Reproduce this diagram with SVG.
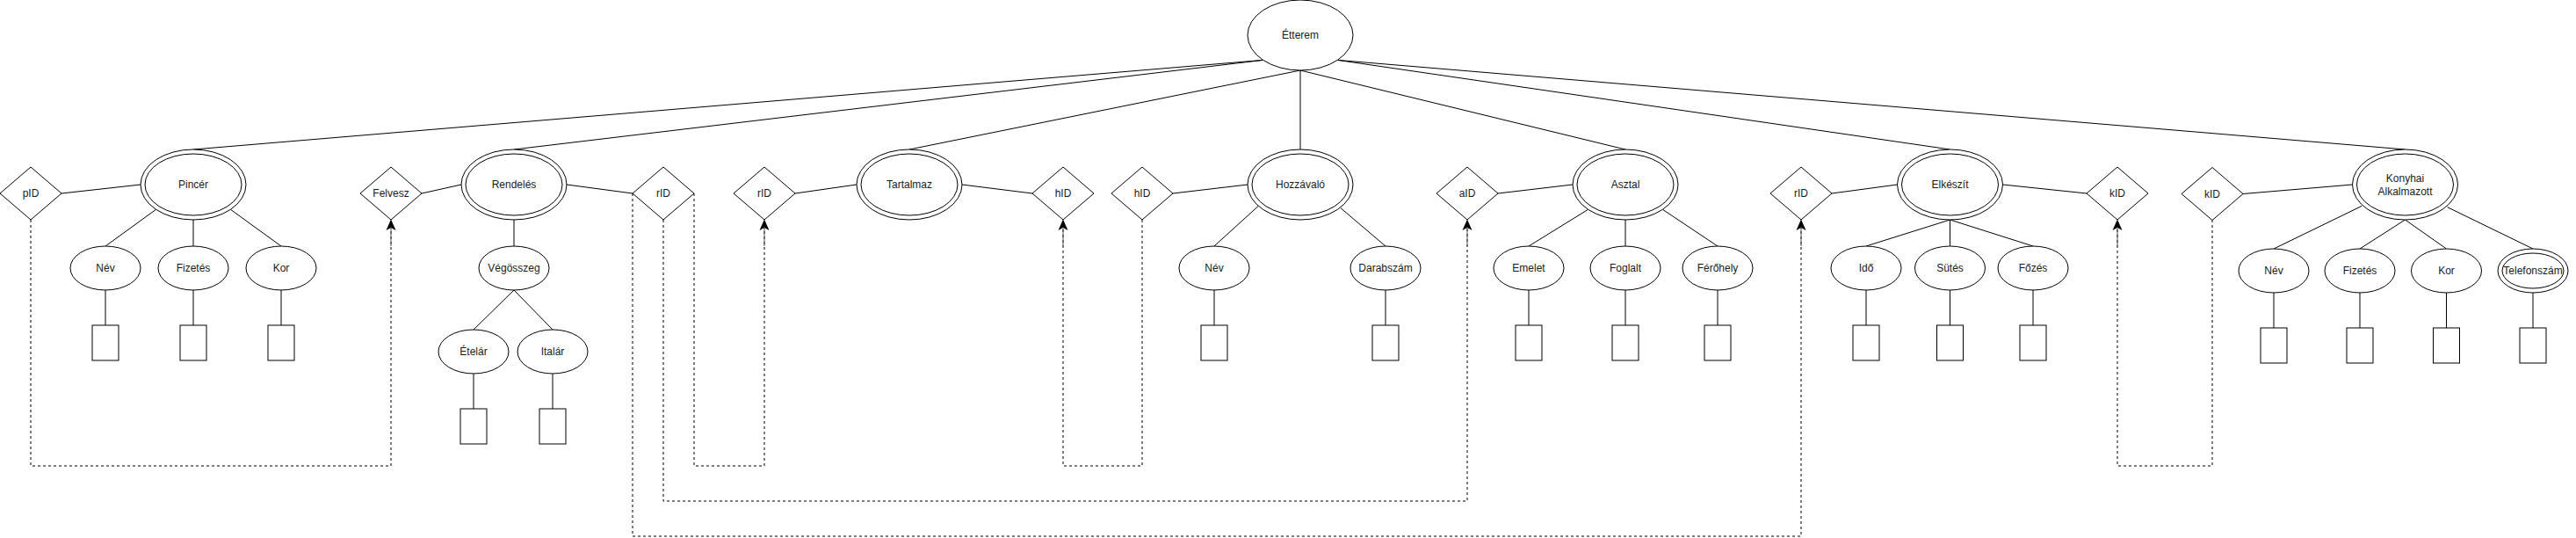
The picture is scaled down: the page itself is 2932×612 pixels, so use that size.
<svg xmlns="http://www.w3.org/2000/svg" width="2932" height="612" viewBox="0 0 2932 612">
<defs>
<style>
.s{fill:#fff;stroke:#000;stroke-width:1}
.e{fill:none;stroke:#000;stroke-width:1}
.d{fill:none;stroke:#000;stroke-width:1;stroke-dasharray:3 3}
.t{font-family:"Liberation Sans",Arial,Helvetica,sans-serif;font-size:12px;fill:#1a1a1a;text-anchor:middle}
</style>
<marker id="arr" markerUnits="userSpaceOnUse" markerWidth="12" markerHeight="12" viewBox="-9 -5 10 10" refX="0" refY="0" orient="auto">
<path d="M0,0 L-8,-3.5 L-6,0 L-8,3.5 Z" fill="#000" stroke="#000" stroke-width="1"/>
</marker>
</defs>
<rect width="2932" height="612" fill="#fff"/>
<g id="connectors">
<!-- Etterem links -->
<path class="e" d="M1437.4,68.4 L220,170"/>
<path class="e" d="M1437.4,68.4 L585,170"/>
<path class="e" d="M1480,80 L1035,170"/>
<path class="e" d="M1480,80 L1480,170"/>
<path class="e" d="M1480,80 L1850,170"/>
<path class="e" d="M1522.6,68.4 L2219.5,170"/>
<path class="e" d="M1522.6,68.4 L2737.5,170"/>
<!-- key links -->
<path class="e" d="M70,220 L160,210"/>
<path class="e" d="M480,220 L525,210"/>
<path class="e" d="M645,210 L720,220"/>
<path class="e" d="M905,220 L975,210"/>
<path class="e" d="M1095,210 L1175,220"/>
<path class="e" d="M1335,220 L1420,210"/>
<path class="e" d="M1705,220 L1790,210"/>
<path class="e" d="M2085,220 L2159.5,210"/>
<path class="e" d="M2279.5,210 L2375,220"/>
<path class="e" d="M2553,220.5 L2677.5,210"/>
<!-- attributes -->
<path class="e" d="M177.4,238.4 L120,280 M220,250 L220,280 M262.6,238.4 L320,280"/>
<path class="e" d="M120,330 L120,370 M220,330 L220,370 M320,330 L320,370"/>
<path class="e" d="M585,250 L585,280 M585,330 L539,375 M585,330 L629,375 M539,425 L539,465 M629,425 L629,465"/>
<path class="e" d="M1432.3,234.3 L1382,280 M1526,236.7 L1577,280 M1382,330 L1382,370 M1577,330 L1577,370"/>
<path class="e" d="M1807.4,238.4 L1740,280 M1850,250 L1850,280 M1892.6,238.4 L1955,280 M1740,330 L1740,370 M1850,330 L1850,370 M1955,330 L1955,370"/>
<path class="e" d="M2219.5,250 L2124,280 M2219.5,250 L2219.5,280 M2219.5,250 L2314,280 M2124,330 L2124,370 M2219.5,330 L2219.5,370 M2314,330 L2314,370"/>
<path class="e" d="M2688.3,234.3 L2588,283 M2737.5,250 L2686,283 M2737.5,250 L2784.5,283 M2785.7,235.7 L2883,283 M2588,333 L2588,373 M2686,333 L2686,373 M2784.5,333 L2784.5,373 M2883,333 L2883,373"/>
<!-- dashed references -->
<path class="d" d="M35,250 L35,530 L445,530 L445,251" marker-end="url(#arr)"/>
<path class="d" d="M790,220 L790,530 L870,530 L870,251" marker-end="url(#arr)"/>
<path class="d" d="M755,250 L755,570 L1670,570 L1670,251" marker-end="url(#arr)"/>
<path class="d" d="M720,220 L720,610 L2050,610 L2050,251" marker-end="url(#arr)"/>
<path class="d" d="M1300,250 L1300,530 L1210,530 L1210,251" marker-end="url(#arr)"/>
<path class="d" d="M2518,250 L2518,530 L2410,530 L2410,251" marker-end="url(#arr)"/>
<path stroke="#555" stroke-width="1" d="M445,258 L445,280 M870,258 L870,280 M1210,258 L1210,280 M1670,258 L1670,280 M2050,258 L2050,280 M2410,258 L2410,280"/>
</g>
<g id="etterem"><ellipse class="s" cx="1480" cy="40" rx="60" ry="40"/><text class="t" x="1480" y="44">Étterem</text></g>
<g id="pID"><polygon class="s" points="35,190 70,220 35,250 0,220"/><text class="t" x="35" y="224">pID</text></g>
<g id="pincer"><ellipse class="s" cx="220" cy="210" rx="60" ry="40"/><ellipse class="s" cx="220" cy="210" rx="55" ry="35"/><text class="t" x="220" y="214">Pincér</text></g>
<g id="pincer-nev"><ellipse class="s" cx="120" cy="305" rx="40" ry="25"/><text class="t" x="120" y="309">Név</text></g>
<g id="pincer-fizetes"><ellipse class="s" cx="220" cy="305" rx="40" ry="25"/><text class="t" x="220" y="309">Fizetés</text></g>
<g id="pincer-kor"><ellipse class="s" cx="320" cy="305" rx="40" ry="25"/><text class="t" x="320" y="309">Kor</text></g>
<g id="pincer-vals"><rect class="s" x="105" y="370" width="30" height="40"/><rect class="s" x="205" y="370" width="30" height="40"/><rect class="s" x="305" y="370" width="30" height="40"/></g>
<g id="felvesz"><polygon class="s" points="445,190 480,220 445,250 410,220"/><text class="t" x="445" y="224">Felvesz</text></g>
<g id="rendeles"><ellipse class="s" cx="585" cy="210" rx="60" ry="40"/><ellipse class="s" cx="585" cy="210" rx="55" ry="35"/><text class="t" x="585" y="214">Rendelés</text></g>
<g id="vegosszeg"><ellipse class="s" cx="585" cy="305" rx="40" ry="25"/><text class="t" x="585" y="309">Végösszeg</text></g>
<g id="etelar"><ellipse class="s" cx="539" cy="400" rx="40" ry="25"/><text class="t" x="539" y="404">Ételár</text><rect class="s" x="524" y="465" width="30" height="40"/></g>
<g id="italar"><ellipse class="s" cx="629" cy="400" rx="40" ry="25"/><text class="t" x="629" y="404">Italár</text><rect class="s" x="614" y="465" width="30" height="40"/></g>
<g id="rID1"><polygon class="s" points="755,190 790,220 755,250 720,220"/><text class="t" x="755" y="224">rID</text></g>
<g id="rID2"><polygon class="s" points="870,190 905,220 870,250 835,220"/><text class="t" x="870" y="224">rID</text></g>
<g id="tartalmaz"><ellipse class="s" cx="1035" cy="210" rx="60" ry="40"/><ellipse class="s" cx="1035" cy="210" rx="55" ry="35"/><text class="t" x="1035" y="214">Tartalmaz</text></g>
<g id="hID1"><polygon class="s" points="1210,190 1245,220 1210,250 1175,220"/><text class="t" x="1210" y="224">hID</text></g>
<g id="hID2"><polygon class="s" points="1300,190 1335,220 1300,250 1265,220"/><text class="t" x="1300" y="224">hID</text></g>
<g id="hozzavalo"><ellipse class="s" cx="1480" cy="210" rx="60" ry="40"/><ellipse class="s" cx="1480" cy="210" rx="55" ry="35"/><text class="t" x="1480" y="214">Hozzávaló</text></g>
<g id="hozzavalo-nev"><ellipse class="s" cx="1382" cy="305" rx="40" ry="25"/><text class="t" x="1382" y="309">Név</text><rect class="s" x="1367" y="370" width="30" height="40"/></g>
<g id="darabszam"><ellipse class="s" cx="1577" cy="305" rx="40" ry="25"/><text class="t" x="1577" y="309">Darabszám</text><rect class="s" x="1562" y="370" width="30" height="40"/></g>
<g id="aID"><polygon class="s" points="1670,190 1705,220 1670,250 1635,220"/><text class="t" x="1670" y="224">aID</text></g>
<g id="asztal"><ellipse class="s" cx="1850" cy="210" rx="60" ry="40"/><ellipse class="s" cx="1850" cy="210" rx="55" ry="35"/><text class="t" x="1850" y="214">Asztal</text></g>
<g id="emelet"><ellipse class="s" cx="1740" cy="305" rx="40" ry="25"/><text class="t" x="1740" y="309">Emelet</text><rect class="s" x="1725" y="370" width="30" height="40"/></g>
<g id="foglalt"><ellipse class="s" cx="1850" cy="305" rx="40" ry="25"/><text class="t" x="1850" y="309">Foglalt</text><rect class="s" x="1835" y="370" width="30" height="40"/></g>
<g id="ferohely"><ellipse class="s" cx="1955" cy="305" rx="40" ry="25"/><text class="t" x="1955" y="309">Férőhely</text><rect class="s" x="1940" y="370" width="30" height="40"/></g>
<g id="rID3"><polygon class="s" points="2050,190 2085,220 2050,250 2015,220"/><text class="t" x="2050" y="224">rID</text></g>
<g id="elkeszit"><ellipse class="s" cx="2219.5" cy="210" rx="60" ry="40"/><ellipse class="s" cx="2219.5" cy="210" rx="55" ry="35"/><text class="t" x="2219.5" y="214">Elkészít</text></g>
<g id="ido"><ellipse class="s" cx="2124" cy="305" rx="40" ry="25"/><text class="t" x="2124" y="309">Idő</text><rect class="s" x="2109" y="370" width="30" height="40"/></g>
<g id="sutes"><ellipse class="s" cx="2219.5" cy="305" rx="40" ry="25"/><text class="t" x="2219.5" y="309">Sütés</text><rect class="s" x="2204.5" y="370" width="30" height="40"/></g>
<g id="fozes"><ellipse class="s" cx="2314" cy="305" rx="40" ry="25"/><text class="t" x="2314" y="309">Főzés</text><rect class="s" x="2299" y="370" width="30" height="40"/></g>
<g id="kID1"><polygon class="s" points="2410,190 2445,220 2410,250 2375,220"/><text class="t" x="2410" y="224">kID</text></g>
<g id="kID2"><polygon class="s" points="2518,190.5 2553,220.5 2518,250.5 2483,220.5"/><text class="t" x="2518" y="224.5">kID</text></g>
<g id="konyhai"><ellipse class="s" cx="2737.5" cy="210" rx="60" ry="40"/><ellipse class="s" cx="2737.5" cy="210" rx="55" ry="35"/><text class="t" x="2737.5" y="207">Konyhai</text><text class="t" x="2737.5" y="222">Alkalmazott</text></g>
<g id="ka-nev"><ellipse class="s" cx="2588" cy="308" rx="40" ry="25"/><text class="t" x="2588" y="312">Név</text><rect class="s" x="2573" y="373" width="30" height="40"/></g>
<g id="ka-fizetes"><ellipse class="s" cx="2686" cy="308" rx="40" ry="25"/><text class="t" x="2686" y="312">Fizetés</text><rect class="s" x="2671" y="373" width="30" height="40"/></g>
<g id="ka-kor"><ellipse class="s" cx="2784.5" cy="308" rx="40" ry="25"/><text class="t" x="2784.5" y="312">Kor</text><rect class="s" x="2769.5" y="373" width="30" height="40"/></g>
<g id="telefonszam"><ellipse class="s" cx="2883" cy="308" rx="40" ry="25"/><ellipse class="s" cx="2883" cy="308" rx="35" ry="20"/><text class="t" x="2883" y="312">Telefonszám</text><rect class="s" x="2868" y="373" width="30" height="40"/></g>
</svg>
